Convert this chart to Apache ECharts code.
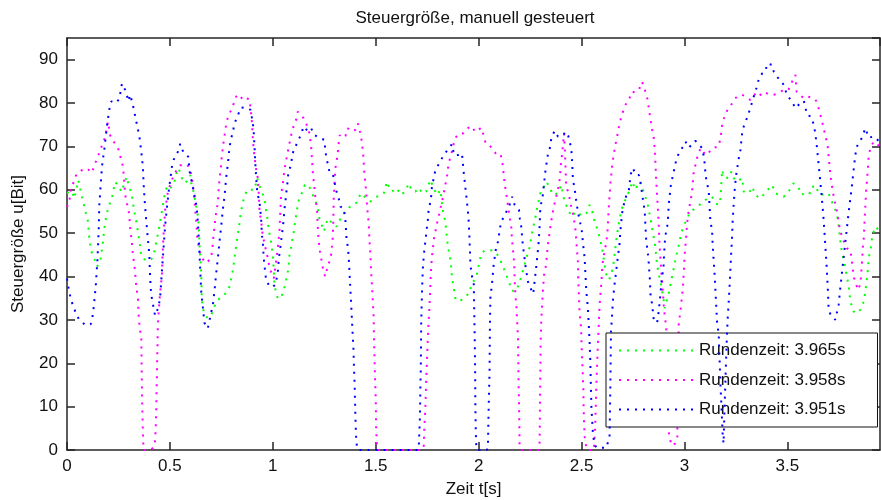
<!DOCTYPE html>
<html>
<head>
<meta charset="utf-8">
<script src="https://cdn.jsdelivr.net/npm/echarts@6/dist/echarts.min.js"></script>
<style>
html,body{margin:0;padding:0;background:#fff;}
#chart{width:881px;height:500px;}
</style>
</head>
<body>
<div id="chart"></div>
<script>
// ---- data (t [s], u [Bit]) ----
const seriesNames = ['Rundenzeit: 3.965s', 'Rundenzeit: 3.958s', 'Rundenzeit: 3.951s'];
const seriesColors = ['#00ff00', '#ff00ff', '#0000ff'];
const xTicks = [0, 0.5, 1, 1.5, 2, 2.5, 3, 3.5];
const yTicks = [0, 10, 20, 30, 40, 50, 60, 70, 80, 90];

const lap3965 = [[0,59.2],[0.01,59.5],[0.025,59.6],[0.035,58],[0.045,60],[0.055,62.2],[0.071,58.7],[0.092,54.5],[0.097,54.6],[0.102,52.7],[0.105,50.7],[0.108,49],[0.113,47.3],[0.121,45.4],[0.137,43.6],[0.146,42.3],[0.162,43.6],[0.167,45.4],[0.173,47.3],[0.177,49],[0.18,50.7],[0.186,52.7],[0.194,54.6],[0.205,56.5],[0.218,58],[0.233,61.8],[0.25,61],[0.265,59.5],[0.278,61.4],[0.29,63],[0.3,61],[0.314,59.1],[0.325,55.5],[0.34,51.9],[0.345,50],[0.351,48.5],[0.361,44.6],[0.375,44],[0.393,43.6],[0.41,44],[0.421,45],[0.429,46.9],[0.437,48.8],[0.445,50.4],[0.451,52.3],[0.458,54.2],[0.468,57],[0.477,59.6],[0.49,61.1],[0.505,60.5],[0.518,61.1],[0.534,64.2],[0.542,65],[0.558,62.7],[0.574,61.5],[0.59,62.5],[0.599,63.4],[0.607,60.4],[0.613,59.9],[0.625,57],[0.637,53.7],[0.642,49.9],[0.644,47.3],[0.652,41.1],[0.655,34.6],[0.665,31.5],[0.684,30.4],[0.7,31],[0.72,33.5],[0.741,35],[0.773,36.2],[0.79,37.7],[0.798,39.6],[0.806,41.5],[0.817,45.4],[0.827,48.8],[0.838,52.3],[0.843,54.2],[0.85,56.1],[0.859,58],[0.875,60],[0.895,60],[0.911,60],[0.924,62.7],[0.935,61],[0.943,60],[0.959,58],[0.968,55],[0.976,52.7],[0.98,50.7],[0.989,48.8],[1.0,45],[1.005,41],[1.008,38.1],[1.016,36.2],[1.024,35],[1.04,35],[1.05,36.5],[1.06,38.1],[1.076,41.9],[1.081,45],[1.09,47],[1.097,49.2],[1.103,50.7],[1.108,52.7],[1.115,54.5],[1.121,56.5],[1.13,58.4],[1.146,59.6],[1.155,61.1],[1.167,61.3],[1.186,60],[1.202,57.7],[1.21,57],[1.218,56.1],[1.226,53.4],[1.237,52],[1.248,50.4],[1.267,53.4],[1.285,52.5],[1.299,52.3],[1.31,51.5],[1.329,53.4],[1.345,54.5],[1.361,55.7],[1.393,56.5],[1.413,57.3],[1.426,59.2],[1.44,58.6],[1.458,58],[1.474,57.3],[1.506,58.4],[1.539,59.2],[1.555,61.9],[1.565,60.5],[1.579,59.6],[1.603,60.4],[1.62,58.8],[1.644,59.6],[1.66,61.5],[1.675,59.8],[1.693,59.6],[1.71,60.5],[1.725,59.2],[1.745,59.6],[1.765,62.3],[1.78,60.5],[1.798,58.8],[1.814,60],[1.82,57.5],[1.827,55],[1.838,52.7],[1.842,50.7],[1.846,48.8],[1.85,47.3],[1.857,45.3],[1.863,43.8],[1.867,42],[1.87,40],[1.876,38.1],[1.882,36.5],[1.888,34.6],[1.9,34.4],[1.916,34.6],[1.935,35.5],[1.956,36.1],[1.964,38.1],[1.989,39.9],[2.0,42.5],[2.013,45.4],[2.03,46],[2.053,46.1],[2.07,46],[2.085,45.5],[2.102,44.2],[2.118,42.3],[2.134,40.4],[2.15,38.4],[2.158,36.9],[2.175,36.5],[2.183,36.6],[2.195,38],[2.207,40],[2.225,43],[2.239,45.4],[2.248,46.8],[2.256,49.2],[2.262,50.7],[2.275,53.5],[2.285,56],[2.296,58.4],[2.304,60],[2.315,60.5],[2.329,61.9],[2.345,60.5],[2.361,58.8],[2.385,59.2],[2.401,61.1],[2.417,57.3],[2.435,55.5],[2.45,53.8],[2.474,55],[2.5,54],[2.523,54.6],[2.539,56.5],[2.555,54.6],[2.563,52.7],[2.579,50.7],[2.59,48.5],[2.6,46.5],[2.612,42.7],[2.62,40.5],[2.633,39.2],[2.645,40.5],[2.657,43.5],[2.662,45.8],[2.668,48.1],[2.678,51.5],[2.686,53.5],[2.694,55.4],[2.705,56.9],[2.727,59.2],[2.737,60.4],[2.746,61.9],[2.762,60],[2.778,61.9],[2.794,61.1],[2.802,59.2],[2.819,57.3],[2.826,55.4],[2.835,53.4],[2.845,50.5],[2.856,47.7],[2.862,45],[2.867,42.7],[2.875,40.5],[2.883,38.9],[2.892,36.5],[2.9,34.2],[2.904,32.7],[2.914,34.5],[2.924,36.2],[2.932,38.1],[2.94,40],[2.948,41.9],[2.956,43.8],[2.965,45.8],[2.973,47.3],[2.98,49],[2.989,50.7],[3.0,52],[3.013,53.4],[3.029,55],[3.045,55.5],[3.061,56.1],[3.078,56.7],[3.094,57.3],[3.11,58],[3.134,58.4],[3.15,56.9],[3.166,56.5],[3.175,58],[3.183,64.6],[3.191,63],[3.199,63.4],[3.215,62.7],[3.228,64.2],[3.239,62.7],[3.256,61.9],[3.28,62.7],[3.288,59.6],[3.313,59.2],[3.329,60.7],[3.345,58.8],[3.369,58],[3.395,59.5],[3.426,61.1],[3.442,59.2],[3.46,58.8],[3.482,58.4],[3.505,59.5],[3.53,61.5],[3.555,60.4],[3.571,58.8],[3.59,59.6],[3.612,59.2],[3.628,61.1],[3.645,60],[3.66,58.8],[3.68,59],[3.7,59.2],[3.716,57.3],[3.733,55.4],[3.745,53.4],[3.75,51.5],[3.755,49],[3.762,46.5],[3.772,44],[3.782,41.9],[3.79,39.8],[3.798,37.7],[3.806,34.2],[3.822,31.9],[3.838,31.5],[3.854,32.3],[3.871,34.2],[3.877,36],[3.883,38.1],[3.89,41],[3.895,44.2],[3.905,46.5],[3.911,48.8],[3.92,50.5],[3.927,51.5],[3.95,50.5]];

const lap3958 = [[0,56],[0.006,56],[0.012,57.6],[0.018,59.9],[0.031,61.6],[0.047,63.7],[0.071,64.5],[0.099,64.9],[0.12,63.9],[0.136,66],[0.15,67.7],[0.162,69.2],[0.17,70.2],[0.178,71.1],[0.186,72.3],[0.193,74.2],[0.199,75.7],[0.21,72.5],[0.225,71.2],[0.234,71.4],[0.248,69.6],[0.259,67.7],[0.27,65.7],[0.275,63.8],[0.283,58.8],[0.291,56.9],[0.3,55],[0.304,53],[0.307,51.1],[0.312,49.2],[0.315,47.7],[0.319,45.8],[0.324,43.8],[0.329,41.9],[0.335,38.5],[0.34,36.6],[0.345,34.6],[0.348,31.2],[0.351,29.3],[0.356,27.3],[0.361,25.8],[0.362,22],[0.363,18],[0.364,14.7],[0.365,11.2],[0.367,7.4],[0.369,3.5],[0.372,0],[0.409,0],[0.425,1],[0.429,2.8],[0.432,6.6],[0.434,9.7],[0.435,13.5],[0.437,17.3],[0.438,20.8],[0.44,24.7],[0.441,28.1],[0.443,30],[0.446,32.3],[0.452,36],[0.459,39.2],[0.462,41.1],[0.464,44.9],[0.469,49.6],[0.477,55.4],[0.484,57.6],[0.49,59.5],[0.5,61],[0.516,63],[0.532,64.5],[0.549,65.6],[0.573,66],[0.594,65.3],[0.605,63.3],[0.613,60.3],[0.618,58.4],[0.622,56],[0.626,53.7],[0.63,51.4],[0.633,48.8],[0.646,45.4],[0.66,44],[0.676,43.1],[0.7,44.2],[0.709,47.7],[0.712,49.6],[0.72,53],[0.725,55],[0.733,56.9],[0.737,60.4],[0.741,62.3],[0.745,64.2],[0.749,65.7],[0.752,67.7],[0.757,69.6],[0.762,71.5],[0.768,73.3],[0.773,75],[0.782,76.9],[0.798,78.4],[0.811,80],[0.822,81.5],[0.838,82],[0.854,80.7],[0.87,81.1],[0.887,80.9],[0.895,77.2],[0.899,75.3],[0.903,71.5],[0.91,68],[0.918,65],[0.927,62.7],[0.932,58.8],[0.935,55.4],[0.945,52],[0.95,49.8],[0.962,47],[0.976,44.2],[0.984,41.9],[1.005,39.6],[1.016,43.5],[1.024,46.5],[1.032,50.4],[1.036,54.5],[1.04,58.8],[1.049,61.5],[1.053,63.4],[1.058,65],[1.065,66.9],[1.073,68.8],[1.081,70.7],[1.089,72.6],[1.1,74.5],[1.113,76.1],[1.121,78],[1.137,77.2],[1.15,76.5],[1.162,75.3],[1.178,73],[1.186,70],[1.189,68],[1.194,64.2],[1.197,62.7],[1.202,60.7],[1.205,58.8],[1.21,57.3],[1.215,55],[1.218,51.9],[1.222,48.5],[1.231,45],[1.238,43.5],[1.243,41.9],[1.254,40],[1.265,42],[1.275,43.5],[1.283,45],[1.287,46.9],[1.291,48.8],[1.294,53],[1.296,58],[1.3,61.5],[1.304,65],[1.311,66.9],[1.316,68.8],[1.32,70.7],[1.325,72.6],[1.34,72],[1.353,72.4],[1.364,74.2],[1.38,73.5],[1.401,73.8],[1.413,75.3],[1.42,74],[1.428,72.6],[1.433,70.7],[1.438,68.8],[1.441,66.9],[1.445,63.4],[1.45,61.5],[1.454,59],[1.458,56.1],[1.466,52.3],[1.469,48.8],[1.474,45],[1.477,41.5],[1.482,37.7],[1.486,34.2],[1.49,30.4],[1.491,26.9],[1.493,23.1],[1.495,19.6],[1.497,15.8],[1.5,12],[1.501,8.5],[1.502,5.1],[1.506,0.5],[1.512,0],[1.728,0],[1.733,0.5],[1.736,5],[1.741,9.7],[1.746,17.3],[1.749,21],[1.752,24.6],[1.756,28.9],[1.76,31.9],[1.765,37.3],[1.768,41.1],[1.773,44.6],[1.778,46.5],[1.782,48.5],[1.79,50.4],[1.798,52.3],[1.806,53.8],[1.814,55.7],[1.822,57.3],[1.83,59.2],[1.838,61.1],[1.846,63],[1.851,65],[1.859,66.9],[1.87,68.8],[1.879,70.7],[1.892,72.3],[1.908,73],[1.924,73],[1.935,73.8],[1.96,74.6],[1.97,74.6],[1.981,73.4],[1.997,73.8],[2.013,74.3],[2.024,72.6],[2.034,70.7],[2.045,70.5],[2.057,70],[2.083,68.4],[2.105,68.4],[2.115,66.5],[2.119,64.6],[2.123,63],[2.127,61.1],[2.134,59.2],[2.142,56.5],[2.15,53.8],[2.158,51.9],[2.16,50],[2.163,48.1],[2.166,46.5],[2.17,44.6],[2.173,42.7],[2.175,39.2],[2.179,35.4],[2.183,33.5],[2.187,29.6],[2.191,26.2],[2.192,22.3],[2.193,19],[2.194,15],[2.196,11.6],[2.197,7.8],[2.198,4.3],[2.199,0.9],[2.205,0],[2.29,0],[2.296,1.2],[2.297,5.8],[2.298,11.2],[2.299,15],[2.3,18.9],[2.301,24.3],[2.304,29.6],[2.308,33],[2.312,36.6],[2.318,40.4],[2.325,41.9],[2.33,44],[2.336,47.3],[2.342,49.2],[2.35,52],[2.361,55],[2.369,56.9],[2.38,59],[2.39,61.1],[2.395,63],[2.4,66.1],[2.405,68],[2.409,70],[2.415,73],[2.42,68],[2.423,64],[2.425,61.1],[2.44,58.5],[2.45,56.1],[2.46,54],[2.466,52.3],[2.471,50.5],[2.478,46],[2.482,43.5],[2.484,39.6],[2.487,35.8],[2.49,31.9],[2.498,28.1],[2.5,24.3],[2.503,20.8],[2.506,17.3],[2.509,13.5],[2.51,10],[2.512,6.6],[2.515,3.1],[2.523,0.5],[2.528,0],[2.56,0],[2.566,5],[2.572,15],[2.58,25.3],[2.584,29.2],[2.587,33],[2.592,36.1],[2.596,38.4],[2.6,41.5],[2.604,43.8],[2.615,46.5],[2.625,49.6],[2.633,56.5],[2.641,61.9],[2.649,65.7],[2.657,68.4],[2.665,70.5],[2.673,72.3],[2.68,74.2],[2.689,76.1],[2.698,77.5],[2.706,78.8],[2.718,80],[2.73,80.7],[2.743,82.6],[2.76,82.5],[2.778,83],[2.794,84.9],[2.805,83.5],[2.819,81.1],[2.827,78.8],[2.835,76.1],[2.843,73.8],[2.851,71.9],[2.855,69.6],[2.859,66.1],[2.862,62.7],[2.867,58.8],[2.871,55.4],[2.875,51.9],[2.878,48.1],[2.883,44.2],[2.888,40.8],[2.895,36.6],[2.9,32.7],[2.908,29.6],[2.912,27.7],[2.918,15],[2.925,3],[2.94,1],[2.955,1.5],[2.965,3],[2.968,15],[2.972,28.9],[2.98,31.9],[2.986,34.5],[2.992,37.3],[2.997,41.1],[3.001,45],[3.007,48.5],[3.013,52.3],[3.021,55.4],[3.029,57.3],[3.037,59.6],[3.041,62],[3.045,64.2],[3.053,65.7],[3.061,67.3],[3.078,69.6],[3.095,68.5],[3.11,68],[3.134,69.6],[3.166,70],[3.175,71.9],[3.183,75],[3.196,77.2],[3.21,78.5],[3.223,79.2],[3.239,80.7],[3.256,81.5],[3.28,81.9],[3.3,81.5],[3.32,80.7],[3.345,82.2],[3.36,81.5],[3.385,82.6],[3.41,82],[3.434,81.9],[3.46,82.5],[3.482,83],[3.505,83],[3.53,85.7],[3.539,86.5],[3.545,82.6],[3.56,82],[3.579,81.1],[3.6,81.5],[3.628,81.1],[3.64,80.5],[3.652,78.8],[3.665,76.5],[3.676,74.2],[3.686,72.2],[3.695,70.4],[3.7,68],[3.705,65.4],[3.71,63],[3.716,61.1],[3.725,58.5],[3.741,55],[3.754,51.1],[3.77,48.5],[3.79,46.5],[3.806,46.1],[3.815,43],[3.822,40],[3.835,38],[3.846,36.9],[3.856,39],[3.862,43],[3.867,47],[3.871,48.8],[3.875,52.7],[3.879,56.5],[3.883,60],[3.89,64.2],[3.895,67.7],[3.903,69.6],[3.919,71.1],[3.95,70]];

const lap3951 = [[0,39.5],[0.01,36.6],[0.02,34.6],[0.03,33.2],[0.045,31.3],[0.06,30],[0.09,28.8],[0.115,29],[0.125,31],[0.13,33],[0.14,38],[0.148,44],[0.154,50.7],[0.157,56.5],[0.165,62],[0.17,65.4],[0.181,69.2],[0.194,74.6],[0.205,78.4],[0.215,80.4],[0.235,80],[0.254,80.9],[0.267,84.5],[0.283,83],[0.299,80.4],[0.307,81.9],[0.319,79.8],[0.335,76.1],[0.351,72.5],[0.361,68.8],[0.369,65.1],[0.372,61.5],[0.377,57.7],[0.383,54],[0.393,48.6],[0.4,45],[0.404,39.6],[0.409,35.9],[0.421,32.7],[0.428,31],[0.445,33],[0.453,35.5],[0.461,41.2],[0.469,46.5],[0.477,51.9],[0.485,55.7],[0.495,60],[0.51,65.4],[0.518,66.9],[0.539,68.8],[0.55,70.6],[0.565,68.7],[0.589,67.6],[0.597,63.8],[0.612,60.6],[0.63,56],[0.636,52.5],[0.645,44],[0.652,36.6],[0.668,29.3],[0.684,28],[0.7,31.6],[0.709,33.5],[0.717,36.9],[0.725,40.8],[0.733,44.2],[0.741,48.1],[0.749,51.5],[0.757,55.4],[0.766,58.8],[0.773,62.7],[0.782,66.1],[0.79,70],[0.798,71.9],[0.806,73.4],[0.814,75.3],[0.83,77.2],[0.846,79],[0.879,78.8],[0.892,78.4],[0.903,75.3],[0.907,73.4],[0.911,70],[0.915,66.1],[0.919,62.7],[0.925,59.2],[0.935,57.3],[0.943,53.4],[0.947,49.6],[0.951,48.1],[0.956,44.2],[0.96,42.3],[0.968,38.9],[0.99,37.5],[1.012,38],[1.024,40.8],[1.029,44.2],[1.035,46.1],[1.04,48.1],[1.049,51.5],[1.053,53.4],[1.057,55.7],[1.061,57.3],[1.065,59.2],[1.07,61.1],[1.076,64.2],[1.089,65.7],[1.094,68],[1.105,69.6],[1.121,71],[1.137,72.8],[1.15,74.6],[1.17,73.5],[1.186,74.2],[1.202,72.6],[1.226,72],[1.251,71.5],[1.254,69.6],[1.259,67.7],[1.275,64.2],[1.291,63.8],[1.299,61.9],[1.307,60],[1.32,58],[1.329,56.1],[1.345,55.7],[1.353,52.7],[1.358,48.8],[1.364,46.9],[1.368,45],[1.372,41.5],[1.376,37.7],[1.38,34.2],[1.384,30.4],[1.388,26.6],[1.392,23.1],[1.394,19.3],[1.397,15.8],[1.399,12],[1.401,8.1],[1.403,5.1],[1.405,2.8],[1.409,0.5],[1.415,0],[1.705,0],[1.709,0.5],[1.714,6.6],[1.716,11],[1.717,15],[1.719,18.9],[1.72,24.3],[1.721,29.6],[1.723,33],[1.725,36.9],[1.728,40.8],[1.73,42.7],[1.736,46.1],[1.741,48.1],[1.746,50],[1.749,51.5],[1.754,53.4],[1.757,55.4],[1.766,57.3],[1.77,58.8],[1.773,60.7],[1.782,62.7],[1.79,64.6],[1.811,66.3],[1.83,68],[1.87,70.5],[1.881,68],[1.9,68],[1.919,68.4],[1.927,64.2],[1.935,60.7],[1.943,57.3],[1.951,53.4],[1.956,48.1],[1.96,42.7],[1.968,40],[1.976,38.9],[1.978,33.5],[1.981,25.8],[1.983,18.1],[1.984,10.4],[1.986,4.3],[1.989,0.5],[1.995,0],[2.04,0],[2.045,0.5],[2.047,5.8],[2.049,10.4],[2.053,18.1],[2.054,24.2],[2.055,29.6],[2.057,35],[2.066,38.9],[2.073,42.7],[2.083,46.1],[2.094,48.1],[2.105,51.5],[2.118,53.4],[2.135,55],[2.15,56.5],[2.163,58.4],[2.175,56.5],[2.196,55.4],[2.2,53.4],[2.207,51.5],[2.213,48.1],[2.218,46.1],[2.228,42.3],[2.233,40.8],[2.239,38.9],[2.256,36.9],[2.265,36],[2.272,38.9],[2.28,42.3],[2.288,46.1],[2.292,48.1],[2.296,51.5],[2.299,55],[2.304,56.9],[2.312,58.8],[2.316,60.7],[2.325,64.6],[2.336,68],[2.348,70],[2.353,71.9],[2.369,73.6],[2.385,72.3],[2.393,71.9],[2.41,72.5],[2.422,73.4],[2.435,72.5],[2.45,69.6],[2.455,65.7],[2.458,62.3],[2.466,60.4],[2.474,57.5],[2.482,55],[2.49,53],[2.5,51.1],[2.507,47.7],[2.515,44.2],[2.519,40.4],[2.523,36.6],[2.531,32.7],[2.535,28.9],[2.539,25],[2.542,21.2],[2.544,17.3],[2.546,13.5],[2.548,9.7],[2.552,6.6],[2.555,3.9],[2.563,1.2],[2.575,0.5],[2.62,0.5],[2.636,3],[2.64,15],[2.643,27.3],[2.648,30.8],[2.652,34.2],[2.656,36.2],[2.66,38.1],[2.665,40],[2.675,44],[2.684,47.3],[2.689,50.7],[2.693,52.7],[2.697,54.6],[2.705,56.5],[2.714,58.2],[2.73,60],[2.738,63.4],[2.749,65],[2.765,63.4],[2.778,63.4],[2.786,61.9],[2.795,58.8],[2.807,55],[2.81,51.9],[2.814,48.5],[2.819,46.5],[2.824,44.6],[2.827,42.7],[2.832,39.2],[2.835,35.8],[2.843,33.5],[2.851,30],[2.867,29.3],[2.875,32],[2.883,35.8],[2.89,39.6],[2.898,41.9],[2.9,44.2],[2.904,47.7],[2.908,49.6],[2.916,51.5],[2.92,53.4],[2.924,56.9],[2.928,58.4],[2.932,60.5],[2.94,62.5],[2.948,64.2],[2.956,66.1],[2.969,68],[2.988,69.6],[3.005,71.1],[3.021,69.7],[3.053,71.3],[3.086,69.6],[3.094,67.7],[3.099,65.7],[3.102,63.4],[3.11,61.5],[3.118,59.6],[3.122,56.1],[3.126,52.7],[3.134,50.7],[3.137,47.3],[3.142,43.5],[3.147,40],[3.151,36.2],[3.155,32.7],[3.159,28.9],[3.166,27],[3.175,15],[3.186,3.1],[3.19,1.5],[3.195,10],[3.203,22],[3.207,27.3],[3.211,31.2],[3.215,34.2],[3.219,37.7],[3.223,41.5],[3.227,45.4],[3.231,48.8],[3.234,52.7],[3.239,56.5],[3.244,60],[3.251,63.4],[3.264,67.3],[3.272,69.2],[3.28,73],[3.288,74.6],[3.304,76.6],[3.317,78.4],[3.329,80.3],[3.34,82],[3.35,83.5],[3.361,85.5],[3.377,86.8],[3.393,87.2],[3.402,89.1],[3.426,88.8],[3.434,87.2],[3.45,86],[3.466,85.3],[3.482,84.2],[3.498,81.9],[3.523,80.3],[3.539,78.8],[3.563,80],[3.58,80.5],[3.596,77.2],[3.615,76.9],[3.628,75],[3.636,73],[3.644,69.6],[3.652,65.7],[3.66,61.9],[3.666,58.8],[3.673,55],[3.679,51.1],[3.684,47.3],[3.689,43.8],[3.693,40.4],[3.697,36.6],[3.7,33.1],[3.709,31.2],[3.733,30],[3.749,33.5],[3.757,37.3],[3.765,40.8],[3.773,44.2],[3.782,48.1],[3.79,51.5],[3.798,55],[3.806,58],[3.814,61.1],[3.822,64.6],[3.83,68],[3.838,70],[3.862,72],[3.879,74.2],[3.895,72],[3.919,72.3],[3.95,71]];

const seriesData = [lap3965, lap3958, lap3951];

// ---- chart ----
const FONT = 'Liberation Sans, Arial, Helvetica, sans-serif';
const AXC = '#262626';
const chart = echarts.init(document.getElementById('chart'), null, {renderer: 'canvas'});

function baseAxis(extra) {
  return Object.assign({
    type: 'value',
    axisLine: {show: true, onZero: false, lineStyle: {color: AXC, width: 1.5}},
    axisTick: {show: true, inside: true, length: 8, lineStyle: {color: AXC, width: 1.5}},
    splitLine: {show: false}
  }, extra);
}

const option = {
  animation: false,
  backgroundColor: '#ffffff',
  title: {
    text: 'Steuergröße, manuell gesteuert',
    left: 475, top: 10, padding: 0,
    textAlign: 'center',
    textStyle: {fontFamily: FONT, fontSize: 17, fontWeight: 'normal', color: '#111'}
  },
  grid: {left: 67, right: 1, top: 38, bottom: 50, containLabel: false, outerBoundsMode: 'none'},
  xAxis: [
    baseAxis({
      min: 0, max: 3.95, interval: 0.5, position: 'bottom',
      name: 'Zeit t[s]', nameLocation: 'middle', nameGap: 31,
      nameTextStyle: {fontFamily: FONT, fontSize: 17, color: '#111'},
      axisLabel: {show: true, margin: 8, showMaxLabel: false, fontFamily: FONT, fontSize: 17, color: '#111',
        formatter: v => (xTicks.indexOf(v) >= 0 ? String(v) : '')}
    }),
    baseAxis({min: 0, max: 3.95, interval: 0.5, position: 'top', axisLabel: {show: false}})
  ],
  yAxis: [
    baseAxis({
      min: 0, max: 95, interval: 10, position: 'left',
      name: 'Steuergröße u[Bit]', nameLocation: 'middle', nameGap: 40,
      nameTextStyle: {fontFamily: FONT, fontSize: 17, color: '#111'},
      axisLabel: {show: true, margin: 9, showMaxLabel: false, fontFamily: FONT, fontSize: 17, color: '#111',
        formatter: v => (yTicks.indexOf(v) >= 0 ? String(v) : '')}
    }),
    baseAxis({min: 0, max: 95, interval: 10, position: 'right', axisLabel: {show: false}})
  ],
  legend: {
    orient: 'vertical',
    left: 606, top: 333,
    data: seriesNames,
    itemWidth: 75, itemHeight: 14, itemGap: 12.5,
    padding: [9, 32, 9, 12],
    backgroundColor: '#ffffff',
    borderColor: '#111', borderWidth: 1, borderRadius: 0,
    itemStyle: {opacity: 0, borderWidth: 0},
    textStyle: {fontFamily: FONT, fontSize: 17, color: '#111'}
  },
  series: seriesData.map((d, i) => ({
    type: 'line',
    name: seriesNames[i],
    data: d,
    xAxisIndex: 0, yAxisIndex: 0,
    showSymbol: false, symbol: 'none',
    clip: true,
    color: seriesColors[i],
    lineStyle: {color: seriesColors[i], width: 2, type: [2, 6], cap: 'butt'},
    itemStyle: {color: seriesColors[i]},
    emphasis: {disabled: true},
    z: 2 + i
  }))
};
chart.setOption(option);
</script>
</body>
</html>
